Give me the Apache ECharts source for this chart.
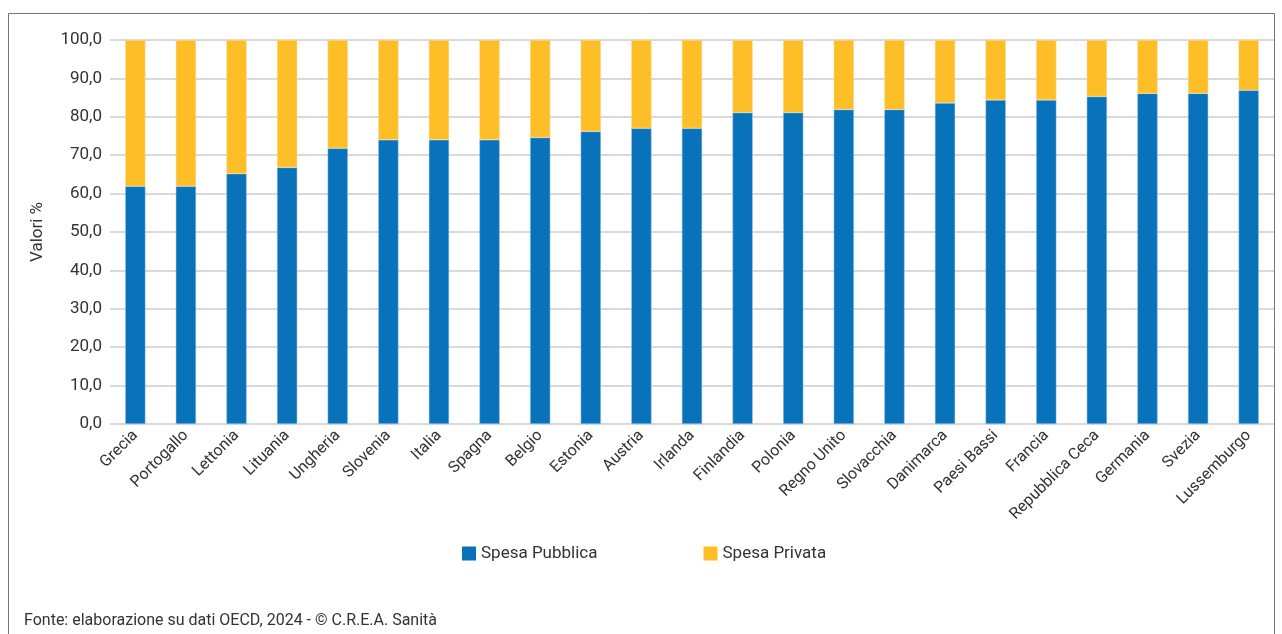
<!DOCTYPE html>
<html>
<head>
    <meta charset="utf-8">
    <title>Spesa sanitaria pubblica e privata</title>
    <script src="https://cdn.jsdelivr.net/npm/echarts@6/dist/echarts.min.js"></script>
    <style>
        body { margin: 0; background: #fff; }
        #main { width: 1282px; height: 634px; }
    </style>
</head>
<body>
    <div id="main"></div>
    <script>
        var countries = ['Grecia', 'Portogallo', 'Lettonia', 'Lituania', 'Ungheria', 'Slovenia', 'Italia',
            'Spagna', 'Belgio', 'Estonia', 'Austria', 'Irlanda', 'Finlandia', 'Polonia', 'Regno Unito',
            'Slovacchia', 'Danimarca', 'Paesi Bassi', 'Francia', 'Repubblica Ceca', 'Germania', 'Svezia',
            'Lussemburgo'];
        var spesaPubblica = [61.9, 61.9, 65.2, 66.8, 71.8, 74.0, 74.0, 74.0, 74.6, 76.2, 77.0, 77.0, 81.1,
            81.1, 81.9, 81.9, 83.6, 84.4, 84.4, 85.3, 86.1, 86.1, 86.9];
        var spesaPrivata = spesaPubblica.map(function (v) { return +(100 - v).toFixed(1); });
        var yTicks = [0, 10, 20, 30, 40, 50, 60, 70, 80, 90, 100];

        var chart = echarts.init(document.getElementById('main'));
        var font = "'Roboto', sans-serif";

        var option = {
            animation: false,
            textStyle: { fontFamily: font },
            graphic: [
                {
                    type: 'rect',
                    shape: { x: 8.5, y: 13.5, width: 1266, height: 700 },
                    style: { fill: 'none', stroke: '#777', lineWidth: 1 }
                },
                {
                    type: 'text',
                    left: 24,
                    top: 613,
                    style: {
                        text: 'Fonte: elaborazione su dati OECD, 2024 - © C.R.E.A. Sanità',
                        fill: '#333',
                        font: "16px " + font
                    }
                }
            ],
            legend: {
                left: 462,
                top: 545,
                padding: 0,
                itemWidth: 14,
                itemHeight: 14,
                itemGap: 106,
                icon: 'rect',
                itemStyle: { borderWidth: 0 },
                textStyle: { fontSize: 17, color: '#333', fontFamily: font },
                data: ['Spesa Pubblica', 'Spesa Privata']
            },
            grid: { left: 110, right: 8, top: 40, bottom: 210 },
            xAxis: {
                type: 'category',
                data: countries,
                axisTick: { show: false },
                axisLine: { show: false },
                axisLabel: {
                    rotate: 45,
                    interval: 0,
                    fontSize: 16,
                    color: '#333',
                    margin: 9
                }
            },
            yAxis: {
                type: 'value',
                min: yTicks[0],
                max: yTicks[yTicks.length - 1],
                interval: 10,
                name: 'Valori %',
                nameLocation: 'middle',
                nameGap: 64,
                nameTextStyle: { fontSize: 17, color: '#333' },
                axisLabel: {
                    fontSize: 17,
                    color: '#333',
                    margin: 8,
                    formatter: function (v) { return v.toFixed(1).replace('.', ','); }
                },
                splitLine: { lineStyle: { color: '#d9d9d9', width: 2 } }
            },
            series: [
                {
                    name: 'Spesa Pubblica',
                    type: 'bar',
                    stack: 'tot',
                    barWidth: '40%',
                    data: spesaPubblica,
                    itemStyle: { color: '#0873BA', borderColor: '#a9c9e6', borderWidth: 0.5 }
                },
                {
                    name: 'Spesa Privata',
                    type: 'bar',
                    stack: 'tot',
                    data: spesaPrivata,
                    itemStyle: { color: '#FDBE28', borderColor: '#fbe0a0', borderWidth: 0.5 }
                }
            ]
        };
        chart.setOption(option);
    </script>
</body>
</html>
